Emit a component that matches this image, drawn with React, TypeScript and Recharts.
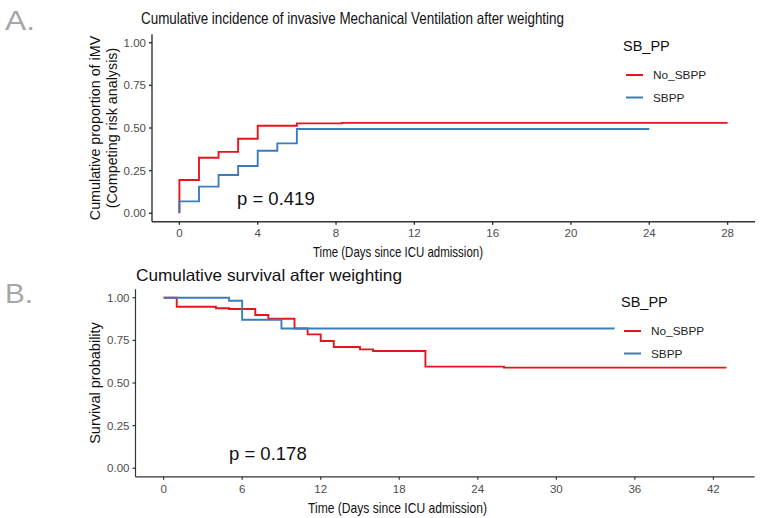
import React from 'react';
import { LineChart, Line, XAxis, YAxis } from 'recharts';

// Panel A: cumulative incidence of iMV (competing risk)
const IMV_NO_SBPP_T = [0, 0, 1, 2, 3, 4, 6, 8.3, 28];
const IMV_NO_SBPP_V = [0, 0.195, 0.326, 0.36, 0.437, 0.513, 0.527, 0.53, 0.53];
const IMV_SBPP_T = [0, 0, 1, 2, 3, 4, 5, 6, 24];
const IMV_SBPP_V = [0.005, 0.07, 0.156, 0.224, 0.277, 0.367, 0.41, 0.494, 0.494];
const IMV_X_TICKS = [0, 4, 8, 12, 16, 20, 24, 28];

// Panel B: survival
const SURV_NO_SBPP_T = [0, 1, 4, 5, 7, 8, 10, 11, 12, 13, 15, 16, 20, 26, 43];
const SURV_NO_SBPP_V = [1, 0.947, 0.938, 0.934, 0.899, 0.877, 0.82, 0.785, 0.746, 0.711, 0.697, 0.688, 0.596, 0.59, 0.59];
const SURV_SBPP_T = [0, 5, 6, 9, 34.4];
const SURV_SBPP_V = [1, 0.982, 0.871, 0.82, 0.818];
const SURV_X_TICKS = [0, 6, 12, 18, 24, 30, 36, 42];

const Y_TICKS = [0, 0.25, 0.5, 0.75, 1];
const GROUPS = ['No_SBPP', 'SBPP'];
const P_VALUES = ['p = 0.419', 'p = 0.178'];

const RED = '#e8141c';
const BLUE = '#3a7dbf';
const COLORS = [RED, BLUE];
const FONT = '"Liberation Sans", Arial, sans-serif';
const AXIS = '#333333';
const TICK = { fill: '#4d4d4d', fontSize: 11.5, fontFamily: FONT };

const zip = (t: number[], v: number[]) => t.map((x, i) => ({ t: x, v: v[i] }));

const imvRed = zip(IMV_NO_SBPP_T, IMV_NO_SBPP_V);
const imvBlue = zip(IMV_SBPP_T, IMV_SBPP_V);
const survRed = zip(SURV_NO_SBPP_T, SURV_NO_SBPP_V);
const survBlue = zip(SURV_SBPP_T, SURV_SBPP_V);

const Legend = ({ x, y }: { x: number; y: number }) => (
  <g>
    <text x={x} y={y} fontSize={14.5} fill="#111">SB_PP</text>
    {GROUPS.map((g, i) => (
      <g key={g}>
        <line x1={x + 3} x2={x + 20} y1={y + 24 + i * 22.5} y2={y + 24 + i * 22.5} stroke={COLORS[i]} strokeWidth={2} />
        <text x={x + 30} y={y + 28 + i * 22.5} fontSize={11.8} fill="#222">{g}</text>
      </g>
    ))}
  </g>
);

const App: React.FC = () => {
  return (
    <div style={{ position: 'absolute', left: 0, top: 0, width: 760, height: 518, background: '#fff', fontFamily: FONT }}>
      {/* Panel A */}
      <div style={{ position: 'absolute', left: 0, top: 0 }}>
        <LineChart width={760} height={260} margin={{ top: 34.2, right: 5, bottom: 18.2, left: 112 }}>
          <XAxis
            type="number"
            dataKey="t"
            domain={[-1.4, 29.4]}
            ticks={IMV_X_TICKS}
            allowDataOverflow
            height={20}
            tick={TICK}
            tickSize={3}
            tickMargin={4}
            stroke={AXIS}
            strokeWidth={1.4}
          />
          <YAxis
            type="number"
            dataKey="v"
            domain={[-0.05, 1.05]}
            ticks={Y_TICKS}
            allowDataOverflow
            width={40}
            tick={TICK}
            tickSize={3}
            tickMargin={3}
            tickFormatter={(v: number) => v.toFixed(2)}
            stroke={AXIS}
            strokeWidth={1.4}
          />
          <Line data={imvRed} dataKey="v" type="stepAfter" stroke={RED} strokeWidth={1.9} dot={false} isAnimationActive={false} />
          <Line data={imvBlue} dataKey="v" type="stepAfter" stroke={BLUE} strokeWidth={1.9} dot={false} isAnimationActive={false} />
        </LineChart>
      </div>

      {/* Panel B */}
      <div style={{ position: 'absolute', left: 0, top: 260 }}>
        <LineChart width={760} height={258} margin={{ top: 29.2, right: 5.4, bottom: 21.2, left: 95.5 }}>
          <XAxis
            type="number"
            dataKey="t"
            domain={[-2.15, 45.15]}
            ticks={SURV_X_TICKS}
            allowDataOverflow
            height={20}
            tick={TICK}
            tickSize={3}
            tickMargin={5}
            stroke={AXIS}
            strokeWidth={1.2}
          />
          <YAxis
            type="number"
            dataKey="v"
            domain={[-0.05, 1.05]}
            ticks={Y_TICKS}
            allowDataOverflow
            width={40}
            tick={TICK}
            tickSize={3}
            tickMargin={3}
            tickFormatter={(v: number) => v.toFixed(2)}
            stroke={AXIS}
            strokeWidth={1.2}
          />
          <Line data={survRed} dataKey="v" type="stepAfter" stroke={RED} strokeWidth={1.9} dot={false} isAnimationActive={false} />
          <Line data={survBlue} dataKey="v" type="stepAfter" stroke={BLUE} strokeWidth={1.9} dot={false} isAnimationActive={false} />
        </LineChart>
      </div>

      {/* Text overlay */}
      <svg width={760} height={518} style={{ position: 'absolute', left: 0, top: 0, pointerEvents: 'none' }} fontFamily={FONT}>
        <text x={5} y={30} fontSize={28} fill="#a6a6a6" textLength={30} lengthAdjust="spacingAndGlyphs">A.</text>
        <text x={5} y={303} fontSize={28} fill="#a6a6a6" textLength={28} lengthAdjust="spacingAndGlyphs">B.</text>

        <text x={141} y={24} fontSize={16.5} fill="#111" textLength={423} lengthAdjust="spacingAndGlyphs">Cumulative incidence of invasive Mechanical Ventilation after weighting</text>
        <text x={136} y={281} fontSize={16.5} fill="#111" textLength={266} lengthAdjust="spacingAndGlyphs">Cumulative survival after weighting</text>

        <text transform="translate(95,128) rotate(-90)" textAnchor="middle" dominantBaseline="central" fontSize={14.3} fill="#111">Cumulative proportion of iMV</text>
        <text transform="translate(112,128) rotate(-90)" textAnchor="middle" dominantBaseline="central" fontSize={14.3} fill="#111">(Competing risk analysis)</text>
        <text transform="translate(95,383) rotate(-90)" textAnchor="middle" dominantBaseline="central" fontSize={14.5} fill="#111">Survival probability</text>

        <text x={313} y={251} dominantBaseline="central" fontSize={15} fill="#111" textLength={170} lengthAdjust="spacingAndGlyphs">Time (Days since ICU admission)</text>
        <text x={308} y={507} dominantBaseline="central" fontSize={15} fill="#111" textLength={179} lengthAdjust="spacingAndGlyphs">Time (Days since ICU admission)</text>

        <text x={237} y={198} dominantBaseline="central" fontSize={18.5} fill="#111">{P_VALUES[0]}</text>
        <text x={229} y={453} dominantBaseline="central" fontSize={18.5} fill="#111">{P_VALUES[1]}</text>

        <Legend x={623} y={51} />
        <Legend x={621} y={307} />
      </svg>
    </div>
  );
};

export default App;
